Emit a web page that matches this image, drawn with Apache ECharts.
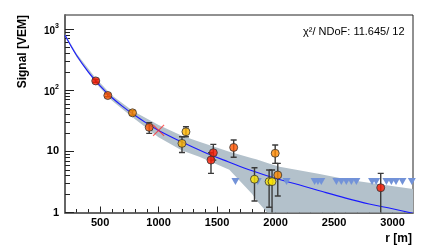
<!DOCTYPE html>
<html><head><meta charset="utf-8">
<script src="https://cdn.jsdelivr.net/npm/echarts@6/dist/echarts.min.js"></script>
<style>html,body{margin:0;padding:0;background:#fff}#c{width:436px;height:250px}</style>
</head><body><div id="c"></div><script>
// ---- data ----
const fitR = [200, 300, 400, 500, 600, 700, 800, 900, 1000, 1200, 1400, 1600, 1800, 2000, 2200, 2400, 2600, 2800, 3000, 3175];
const fitS = [795, 370, 198, 118, 76, 53, 38.5, 28.7, 22, 14.2, 9.5, 6.7, 4.8, 3.6, 2.85, 2.2, 1.72, 1.38, 1.15, 0.97];

const bandR  = [200, 300, 463, 600, 777, 1000, 1200, 1348, 1605, 1800, 1834, 1950, 2034, 2377, 2634, 3175];
const bandUp = [830, 395, 157, 83, 46, 27, 18, 14.4, 9.9, 7.7, 7.4, 6.3, 5.6, 4.26, 3.4, 2.42];
const bandLo = [762, 345, 130, 68, 36, 17, 10.3, 8.2, 5.0, 2.0, 1.6, 0.9, 0.5, 0.3, 0.3, 0.3];

const stR   = [463, 566, 777, 920, 1234, 1200, 1468, 1448, 1642, 1820, 1945, 1970, 1997, 2019, 2899];
const stS   = [142, 82, 42.7, 24.7, 20.9, 13.5, 9.5, 7.2, 11.6, 3.5, 3.2, 3.2, 9.3, 4.1, 2.54];
const stLo  = [135, 78, 39, 19.7, 17.3, 9.6, 7.2, 4.37, 8.0, 1.54, 1.22, 0.3, 6.36, 1.86, 0.3];
const stHi  = [150, 87, 46.4, 29.3, 25.2, 17.3, 13.0, 9.5, 15.3, 5.4, 4.95, 4.95, 12.7, 6.36, 4.37];
const stGrp = [0, 1, 2, 1, 3, 3, 0, 0, 1, 4, 4, 4, 2, 2, 0];

const silR = [1657, 1848, 2094, 2334, 2362, 2391, 2520, 2562, 2605, 2648, 2691, 2825, 2860, 2948, 2990, 3030, 3085, 3165];
const silS = [3.2, 3.2, 3.2, 3.2, 3.2, 3.2, 3.2, 3.2, 3.2, 3.2, 3.2, 3.2, 3.2, 3.2, 3.2, 3.2, 3.2, 3.2];

const s1000R = [1000];
const s1000S = [22];

const xMajor = [500, 1000, 1500, 2000, 2500, 3000];
const xMinor = [300, 400, 600, 700, 800, 900, 1100, 1200, 1300, 1400, 1600, 1700, 1800, 1900, 2100, 2200, 2300, 2400, 2600, 2700, 2800, 2900, 3100];
const yMajor = [1, 10, 100, 1000];
const yMinor = [2, 3, 4, 5, 6, 7, 8, 9, 20, 30, 40, 50, 60, 70, 80, 90, 200, 300, 400, 500, 600, 700, 800, 900];

const chi2Text = 'χ²/ NDoF: 11.645/ 12';
// ---- styles ----
const palette = ['#ff1a00', '#ff5500', '#ff8a00', '#ffb400', '#ffe600'];
const FONT = '"Liberation Sans", Arial, Helvetica, sans-serif';

const chart = echarts.init(document.getElementById('c'), null, {renderer: 'canvas'});
const X0 = 200, X1 = 3175, Y0 = 1, Y1 = 1700;

function clipOf(params) {
  const cs = params.coordSys;
  return {type: 'rect', shape: {x: cs.x, y: cs.y, width: cs.width, height: cs.height}};
}

const baseX = {type: 'value', min: X0, max: X1, gridIndex: 0, splitLine: {show: false}};
const baseY = {type: 'log', logBase: 10, min: Y0, max: Y1, gridIndex: 0, splitLine: {show: false}};

chart.setOption({
  animation: false,
  grid: {left: 65, right: 23, top: 15, bottom: 37.5, show: true, borderColor: '#222', borderWidth: 1, backgroundColor: 'transparent'},
  xAxis: [
    Object.assign({}, baseX, {
      position: 'bottom',
      axisLine: {show: true, onZero: false, lineStyle: {color: '#666', width: 2}},
      axisTick: {show: true, inside: true, length: 6, customValues: xMajor, lineStyle: {color: '#222', width: 1}},
      axisLabel: {show: true, customValues: xMajor, margin: 5, color: '#000', fontFamily: FONT, fontWeight: 'bold', fontSize: 11,
        formatter: function (v) { return String(Math.round(v)); }}
    }),
    Object.assign({}, baseX, {
      position: 'bottom',
      axisLine: {show: false},
      axisTick: {show: true, inside: true, length: 3.5, customValues: xMinor, lineStyle: {color: '#222', width: 1}},
      axisLabel: {show: false}
    })
  ],
  yAxis: [
    Object.assign({}, baseY, {
      position: 'left',
      axisLine: {show: true, onZero: false, lineStyle: {color: '#666', width: 2}},
      axisTick: {show: true, inside: true, length: 9, customValues: yMajor, lineStyle: {color: '#222', width: 1}},
      axisLabel: {
        show: true, customValues: yMajor, margin: 6, color: '#000', fontFamily: FONT, fontWeight: 'bold', fontSize: 11,
        formatter: function (v) {
          const e = Math.round(Math.log10(v));
          if (e >= 2) return '{b|10}{s|' + e + '}';
          return String(Math.round(v));
        },
        rich: {
          b: {fontFamily: FONT, fontWeight: 'bold', fontSize: 10, color: '#000', verticalAlign: 'bottom'},
          s: {fontFamily: FONT, fontWeight: 'bold', fontSize: 7, color: '#000', verticalAlign: 'top', padding: [0, 0, 7, 0]}
        }
      }
    }),
    Object.assign({}, baseY, {
      position: 'left',
      axisLine: {show: false},
      axisTick: {show: true, inside: true, length: 5, customValues: yMinor, lineStyle: {color: '#222', width: 1}},
      axisLabel: {show: false}
    })
  ],
  series: [
    {
      type: 'custom', name: 'band', xAxisIndex: 0, yAxisIndex: 0, z: 1,
      data: [[bandR[0], bandUp[0]]],
      renderItem: function (params, api) {
        const pts = [];
        for (let i = 0; i < bandR.length; i++) pts.push(api.coord([bandR[i], bandUp[i]]));
        for (let i = bandR.length - 1; i >= 0; i--) pts.push(api.coord([bandR[i], bandLo[i]]));
        return {type: 'polygon', shape: {points: pts}, style: {fill: '#b3c1cb', stroke: null}, clipPath: clipOf(params)};
      }
    },
    {
      type: 'line', name: 'fit', xAxisIndex: 0, yAxisIndex: 0, z: 3,
      data: fitR.map((r, i) => [r, fitS[i]]),
      smooth: 0.4, showSymbol: false, symbol: 'none', clip: true,
      lineStyle: {color: '#1a1aff', width: 1.1}
    },
    {
      type: 'scatter', name: 'silent', xAxisIndex: 0, yAxisIndex: 0, z: 4,
      data: silR.map((r, i) => [r, silS[i]]),
      symbol: 'triangle', symbolRotate: 180, symbolSize: [8, 7],
      itemStyle: {color: '#7292d8', opacity: 1}
    },
    {
      type: 'custom', name: 'errors', xAxisIndex: 0, yAxisIndex: 0, z: 5,
      data: stR.map((r, i) => [r, stS[i], stLo[i], stHi[i]]),
      renderItem: function (params, api) {
        const r = api.value(0);
        const lo = api.coord([r, api.value(2)]);
        const hi = api.coord([r, api.value(3)]);
        const cap = 3;
        const lineStyle = {stroke: '#3a3a3a', lineWidth: 1.4};
        const children = [
          {type: 'line', shape: {x1: lo[0], y1: lo[1], x2: hi[0], y2: hi[1]}, style: lineStyle},
          {type: 'line', shape: {x1: hi[0] - cap, y1: hi[1], x2: hi[0] + cap, y2: hi[1]}, style: lineStyle}
        ];
        if (api.value(2) >= 1) {
          children.push({type: 'line', shape: {x1: lo[0] - cap, y1: lo[1], x2: lo[0] + cap, y2: lo[1]}, style: lineStyle});
        }
        return {type: 'group', children: children, clipPath: clipOf(params)};
      }
    },
    {
      type: 'scatter', name: 'stations', xAxisIndex: 0, yAxisIndex: 0, z: 6,
      data: stR.map((r, i) => ({value: [r, stS[i]], itemStyle: {color: palette[stGrp[i]]}})),
      symbol: 'circle', symbolSize: 8,
      itemStyle: {borderColor: '#333', borderWidth: 1}
    },
    {
      type: 'scatter', name: 'S1000', xAxisIndex: 0, yAxisIndex: 0, z: 7,
      data: s1000R.map((r, i) => [r, s1000S[i]]),
      symbol: 'path://M0,0L10,10M10,0L0,10', symbolSize: 11,
      itemStyle: {color: 'none', borderColor: '#ff2a2a', borderWidth: 1.2, opacity: 0.75}
    }
  ],
  graphic: [
    {type: 'text', left: 303, top: 26, style: {text: chi2Text, fontFamily: FONT, fontSize: 11, fontWeight: 'normal', fill: '#000'}},
    {type: 'text', x: 22.5, y: 15, rotation: Math.PI / 2, style: {text: 'Signal [VEM]', fontFamily: FONT, fontSize: 12, fontWeight: 'bold', fill: '#000', align: 'right', verticalAlign: 'middle'}},
    {type: 'text', x: 412, y: 239, style: {text: 'r [m]', fontFamily: FONT, fontSize: 12, fontWeight: 'bold', fill: '#000', align: 'right', verticalAlign: 'middle'}}
  ]
});
</script></body></html>
